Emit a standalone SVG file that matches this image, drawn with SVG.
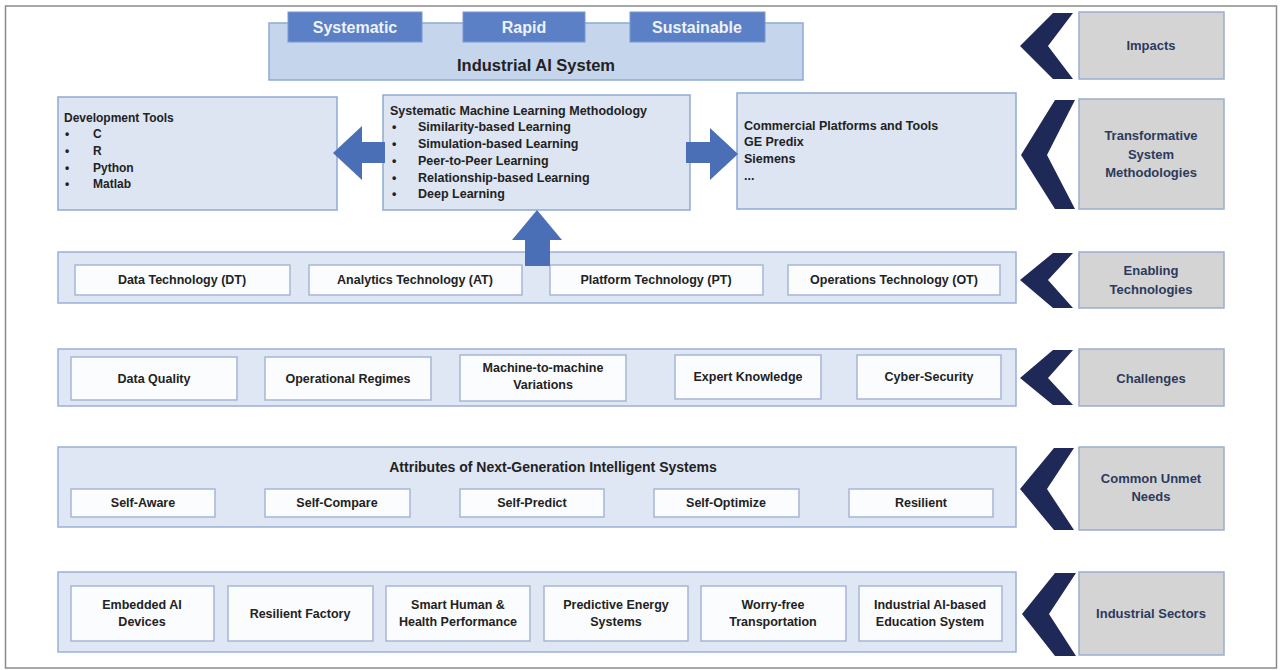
<svg xmlns="http://www.w3.org/2000/svg" width="1282" height="670" viewBox="0 0 1282 670">
  <style>
    .t { font-family: "Liberation Sans", Arial, sans-serif; font-weight: bold; fill: #222; }
    .lbl { font-family: "Liberation Sans", Arial, sans-serif; font-weight: bold; fill: #2c3a5c; font-size: 13px; text-anchor: middle; }
    .row { fill: #dfe7f4; stroke: #9bb0d7; stroke-width: 1.5; }
    .panel { fill: #dde5f3; stroke: #8ea9d4; stroke-width: 1.5; }
    .cell { fill: #fbfcfe; stroke: #a6b6d6; stroke-width: 1.5; }
    .side { fill: #d4d4d4; stroke: #9aaed0; stroke-width: 1.5; }
    .chev { fill: #1f2957; }
    .arrow { fill: #4b6fb6; }
    .tab { fill: #5b80c6; stroke: #7c98d0; stroke-width: 1; }
    .tabt { font-family: "Liberation Sans", Arial, sans-serif; font-weight: bold; fill: #eef2fa; font-size: 16px; text-anchor: middle; }
    .c { text-anchor: middle; font-size: 12.5px; }
  </style>

  <!-- outer frame -->
  <rect x="5.5" y="6" width="1271" height="662" fill="#ffffff" stroke="#8a8a8a" stroke-width="1.5"/>

  <!-- Industrial AI System banner -->
  <g id="industrial-ai-system">
    <rect x="269" y="23" width="534" height="57" fill="#c5d5ec" stroke="#8ea9d4" stroke-width="1.5"/>
    <text class="t" x="536" y="71" font-size="16.5" text-anchor="middle" fill="#1a1a1a">Industrial AI System</text>
  </g>
  <g id="tab-systematic">
    <rect class="tab" x="288" y="12" width="134" height="30"/>
    <text class="tabt" x="355" y="33">Systematic</text>
  </g>
  <g id="tab-rapid">
    <rect class="tab" x="463" y="12" width="122" height="30"/>
    <text class="tabt" x="524" y="33">Rapid</text>
  </g>
  <g id="tab-sustainable">
    <rect class="tab" x="630" y="12" width="135" height="30"/>
    <text class="tabt" x="697" y="33">Sustainable</text>
  </g>

  <!-- methodology panels -->
  <g id="development-tools">
    <rect class="panel" x="58" y="97" width="279" height="113"/>
    <text class="t" x="64" y="122" font-size="12">Development Tools</text>
    <g class="t" font-size="12">
      <text x="65" y="138">•</text><text x="93" y="138">C</text>
      <text x="65" y="155">•</text><text x="93" y="155">R</text>
      <text x="65" y="172">•</text><text x="93" y="172">Python</text>
      <text x="65" y="188">•</text><text x="93" y="188">Matlab</text>
    </g>
  </g>
  <g id="ml-methodology">
    <rect class="panel" x="383" y="95" width="307" height="115"/>
    <text class="t" x="390" y="115" font-size="12.5">Systematic Machine Learning Methodology</text>
    <g class="t" font-size="12.5">
      <text x="392" y="131">•</text><text x="418" y="131">Similarity-based Learning</text>
      <text x="392" y="148">•</text><text x="418" y="148">Simulation-based Learning</text>
      <text x="392" y="165">•</text><text x="418" y="165">Peer-to-Peer Learning</text>
      <text x="392" y="182">•</text><text x="418" y="182">Relationship-based Learning</text>
      <text x="392" y="198">•</text><text x="418" y="198">Deep Learning</text>
    </g>
  </g>
  <g id="commercial-platforms">
    <rect class="panel" x="737" y="93" width="279" height="116"/>
    <g class="t" font-size="12.5">
      <text x="744" y="130">Commercial Platforms and Tools</text>
      <text x="744" y="146">GE Predix</text>
      <text x="744" y="163">Siemens</text>
      <text x="744" y="180">...</text>
    </g>
  </g>

  <!-- connectors -->
  <g id="connectors">
    <polygon class="arrow" points="385,142 362,142 362,126 333,153 362,180 362,163 385,163"/>
    <polygon class="arrow" points="686,142 710,142 710,128 738,154 710,180 710,163 686,163"/>
    <polygon class="arrow" points="525,266 525,240 512,240 537,210 562,240 550,240 550,266"/>
  </g>

  <!-- Enabling technologies row -->
  <g id="enabling-technologies">
    <rect class="row" x="58" y="252" width="958" height="51"/>
    <rect class="cell" x="75" y="265" width="215" height="30"/>
    <text class="t c" x="182" y="284">Data Technology (DT)</text>
    <rect class="cell" x="309" y="265" width="213" height="30"/>
    <text class="t c" x="415" y="284">Analytics Technology (AT)</text>
    <rect class="cell" x="550" y="265" width="213" height="30"/>
    <text class="t c" x="656" y="284">Platform Technology (PT)</text>
    <rect class="cell" x="788" y="265" width="212" height="30"/>
    <text class="t c" x="894" y="284">Operations Technology (OT)</text>
  </g>
  <!-- re-draw the arrow stem above the row outline -->
  <polygon class="arrow" points="525,266 525,240 550,240 550,266"/>

  <!-- Challenges row -->
  <g id="challenges">
    <rect class="row" x="58" y="349" width="958" height="57"/>
    <rect class="cell" x="71" y="357" width="166" height="43"/>
    <text class="t c" x="154" y="383">Data Quality</text>
    <rect class="cell" x="265" y="357" width="166" height="43"/>
    <text class="t c" x="348" y="383">Operational Regimes</text>
    <rect class="cell" x="460" y="355" width="166" height="46"/>
    <text class="t c" x="543" y="372">Machine-to-machine</text>
    <text class="t c" x="543" y="389">Variations</text>
    <rect class="cell" x="675" y="355" width="146" height="44"/>
    <text class="t c" x="748" y="381">Expert Knowledge</text>
    <rect class="cell" x="857" y="355" width="144" height="44"/>
    <text class="t c" x="929" y="381">Cyber-Security</text>
  </g>

  <!-- Common unmet needs row -->
  <g id="common-unmet-needs">
    <rect class="row" x="58" y="447" width="958" height="80"/>
    <text class="t" x="553" y="472" font-size="14" text-anchor="middle">Attributes of Next-Generation Intelligent Systems</text>
    <rect class="cell" x="71" y="489" width="144" height="28"/>
    <text class="t c" x="143" y="507">Self-Aware</text>
    <rect class="cell" x="265" y="489" width="145" height="28"/>
    <text class="t c" x="337" y="507">Self-Compare</text>
    <rect class="cell" x="460" y="489" width="144" height="28"/>
    <text class="t c" x="532" y="507">Self-Predict</text>
    <rect class="cell" x="654" y="489" width="145" height="28"/>
    <text class="t c" x="726" y="507">Self-Optimize</text>
    <rect class="cell" x="849" y="489" width="144" height="28"/>
    <text class="t c" x="921" y="507">Resilient</text>
  </g>

  <!-- Industrial sectors row -->
  <g id="industrial-sectors">
    <rect class="row" x="58" y="572" width="958" height="80"/>
    <rect class="cell" x="71" y="586" width="143" height="55"/>
    <text class="t c" x="142" y="609">Embedded AI</text>
    <text class="t c" x="142" y="626">Devices</text>
    <rect class="cell" x="228" y="586" width="145" height="55"/>
    <text class="t c" x="300" y="618">Resilient Factory</text>
    <rect class="cell" x="386" y="586" width="144" height="55"/>
    <text class="t c" x="458" y="609">Smart Human &amp;</text>
    <text class="t c" x="458" y="626">Health Performance</text>
    <rect class="cell" x="544" y="586" width="144" height="55"/>
    <text class="t c" x="616" y="609">Predictive Energy</text>
    <text class="t c" x="616" y="626">Systems</text>
    <rect class="cell" x="701" y="586" width="145" height="55"/>
    <text class="t c" x="773" y="609">Worry-free</text>
    <text class="t c" x="773" y="626">Transportation</text>
    <rect class="cell" x="859" y="586" width="143" height="55"/>
    <text class="t c" x="930" y="609">Industrial AI-based</text>
    <text class="t c" x="930" y="626">Education System</text>
  </g>

  <!-- layer labels with chevrons -->
  <g id="label-impacts">
    <polygon class="chev" points="1053,13 1073,13 1048,46 1073,79 1053,79 1020,46"/>
    <rect class="side" x="1079" y="12" width="145" height="67"/>
    <text class="lbl" x="1151" y="50">Impacts</text>
  </g>
  <g id="label-transformative">
    <polygon class="chev" points="1055,100 1075,100 1047,155 1075,209 1055,209 1021,155"/>
    <rect class="side" x="1079" y="99" width="145" height="110"/>
    <text class="lbl" x="1151" y="140">Transformative</text>
    <text class="lbl" x="1151" y="159">System</text>
    <text class="lbl" x="1151" y="177">Methodologies</text>
  </g>
  <g id="label-enabling">
    <polygon class="chev" points="1053,253 1073,253 1048,280 1073,308 1053,308 1020,280"/>
    <rect class="side" x="1079" y="252" width="145" height="56"/>
    <text class="lbl" x="1151" y="275">Enabling</text>
    <text class="lbl" x="1151" y="294">Technologies</text>
  </g>
  <g id="label-challenges">
    <polygon class="chev" points="1053,350 1073,350 1048,378 1073,405 1053,405 1020,378"/>
    <rect class="side" x="1079" y="349" width="145" height="57"/>
    <text class="lbl" x="1151" y="383">Challenges</text>
  </g>
  <g id="label-unmet-needs">
    <polygon class="chev" points="1054,448 1074,448 1047,489 1074,530 1054,530 1020,489"/>
    <rect class="side" x="1079" y="447" width="145" height="83"/>
    <text class="lbl" x="1151" y="483">Common Unmet</text>
    <text class="lbl" x="1151" y="501">Needs</text>
  </g>
  <g id="label-sectors">
    <polygon class="chev" points="1055,573 1076,573 1049,614 1076,656 1055,656 1022,614"/>
    <rect class="side" x="1079" y="572" width="145" height="83"/>
    <text class="lbl" x="1151" y="618">Industrial Sectors</text>
  </g>
</svg>
